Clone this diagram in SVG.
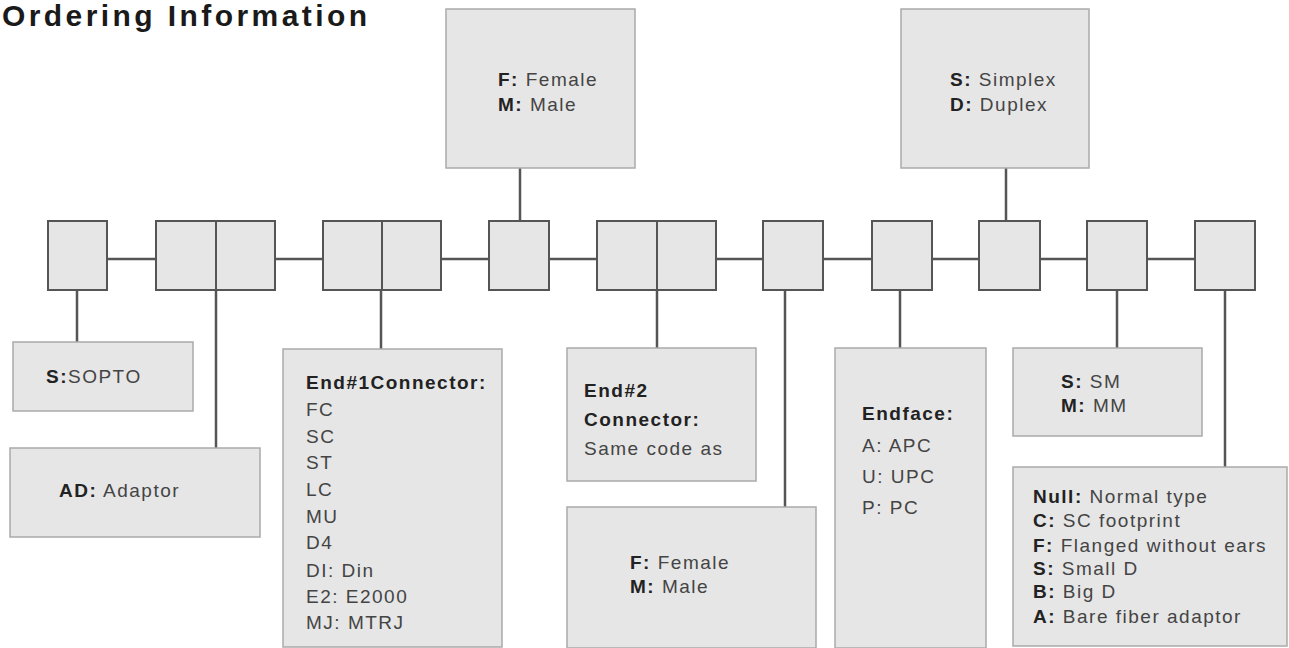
<svg xmlns="http://www.w3.org/2000/svg" width="1289" height="648" viewBox="0 0 1289 648">
<style>
.bg{fill:#ffffff}
.cell{fill:#e6e6e6;stroke:#555;stroke-width:2}
.info{fill:#e6e6e6;stroke:#aaa;stroke-width:1.5}
.conn{stroke:#555;stroke-width:2.5;fill:none}
text{font-family:"Liberation Sans",Arial,sans-serif;font-size:19px;letter-spacing:1.5px;fill:#444}
.b{font-weight:bold;fill:#222}
.title{font-weight:bold;font-size:30px;fill:#1a1a1a;letter-spacing:0}
</style>
<rect class="bg" x="0" y="0" width="1289" height="648"/>
<text class="title" x="2" y="26" textLength="365" lengthAdjust="spacing">Ordering Information</text>

<g id="connectors">
<path class="conn" d="M107 259H156M275 259H323M441 259H489M549 259H597M716 259H763M823 259H872M932 259H979M1040 259H1087M1147 259H1195"/>
<path class="conn" d="M77 290V342M216 290V448M381 290V349M520 168V221M657 290V348M785 290V507M900 290V348M1006 168V221M1117 290V348M1225 290V467"/>
</g>

<g id="row">
<rect class="cell" x="48" y="221" width="59" height="69"/>
<rect class="cell" x="156" y="221" width="60" height="69"/>
<rect class="cell" x="216" y="221" width="59" height="69"/>
<rect class="cell" x="323" y="221" width="59" height="69"/>
<rect class="cell" x="382" y="221" width="59" height="69"/>
<rect class="cell" x="489" y="221" width="60" height="69"/>
<rect class="cell" x="597" y="221" width="60" height="69"/>
<rect class="cell" x="657" y="221" width="59" height="69"/>
<rect class="cell" x="763" y="221" width="60" height="69"/>
<rect class="cell" x="872" y="221" width="60" height="69"/>
<rect class="cell" x="979" y="221" width="61" height="69"/>
<rect class="cell" x="1087" y="221" width="60" height="69"/>
<rect class="cell" x="1195" y="221" width="60" height="69"/>
</g>

<g id="gender1">
<rect class="info" x="446" y="9" width="189" height="159"/>
<text x="498" y="86"><tspan class="b">F:</tspan> Female</text>
<text x="498" y="111"><tspan class="b">M:</tspan> Male</text>
</g>

<g id="simplex">
<rect class="info" x="901" y="9" width="188" height="159"/>
<text x="950" y="86"><tspan class="b">S:</tspan> Simplex</text>
<text x="950" y="111"><tspan class="b">D:</tspan> Duplex</text>
</g>

<g id="sopto">
<rect class="info" x="13" y="342" width="180" height="69"/>
<text x="46" y="383"><tspan class="b">S:</tspan>SOPTO</text>
</g>

<g id="adaptor">
<rect class="info" x="10" y="448" width="250" height="89"/>
<text x="59" y="497"><tspan class="b">AD:</tspan> Adaptor</text>
</g>

<g id="end1">
<rect class="info" x="283" y="349" width="219" height="298"/>
<text class="b" x="306" y="389">End#1Connector:</text>
<text x="306" y="416">FC</text>
<text x="306" y="443">SC</text>
<text x="306" y="469">ST</text>
<text x="306" y="496">LC</text>
<text x="306" y="523">MU</text>
<text x="306" y="549">D4</text>
<text x="306" y="577">DI: Din</text>
<text x="306" y="603">E2: E2000</text>
<text x="306" y="629">MJ: MTRJ</text>
</g>

<g id="end2">
<rect class="info" x="567" y="348" width="189" height="133"/>
<text class="b" x="584" y="397">End#2</text>
<text class="b" x="584" y="426">Connector:</text>
<text x="584" y="455">Same code as</text>
</g>

<g id="gender2">
<rect class="info" x="567" y="507" width="249" height="141"/>
<text x="630" y="569"><tspan class="b">F:</tspan> Female</text>
<text x="630" y="593"><tspan class="b">M:</tspan> Male</text>
</g>

<g id="endface">
<rect class="info" x="835" y="348" width="151" height="300"/>
<text class="b" x="862" y="420">Endface:</text>
<text x="862" y="452">A: APC</text>
<text x="862" y="483">U: UPC</text>
<text x="862" y="514">P: PC</text>
</g>

<g id="mode">
<rect class="info" x="1013" y="348" width="189" height="88"/>
<text x="1061" y="388"><tspan class="b">S:</tspan> SM</text>
<text x="1061" y="412"><tspan class="b">M:</tspan> MM</text>
</g>

<g id="type">
<rect class="info" x="1013" y="467" width="274" height="179"/>
<text x="1033" y="503"><tspan class="b">Null:</tspan> Normal type</text>
<text x="1033" y="527"><tspan class="b">C:</tspan> SC footprint</text>
<text x="1033" y="552" letter-spacing="1.3"><tspan class="b">F:</tspan> Flanged without ears</text>
<text x="1033" y="575"><tspan class="b">S:</tspan> Small D</text>
<text x="1033" y="598"><tspan class="b">B:</tspan> Big D</text>
<text x="1033" y="623"><tspan class="b">A:</tspan> Bare fiber adaptor</text>
</g>
</svg>
